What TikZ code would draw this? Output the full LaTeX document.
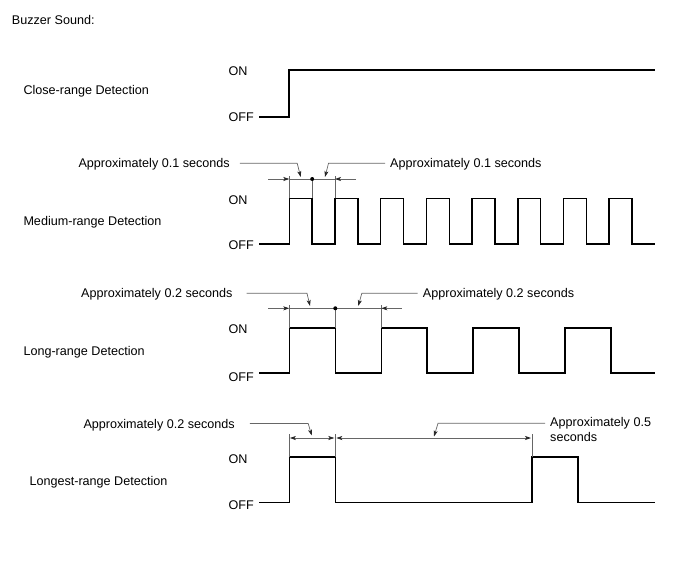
\documentclass[tikz,border=0pt]{standalone}
\usepackage{fontspec}
\setmainfont{Liberation Sans}
\usetikzlibrary{arrows.meta}
\begin{document}
\begin{tikzpicture}[x=1pt, y=-1pt, font=\fontsize{12.6}{15.6}\selectfont,
  >={Stealth[length=6pt, width=4pt, inset=1.5pt, color=black!85]},
  lbl/.style={anchor=west, inner sep=0pt, text height=9pt, text depth=0pt},
  wave/.style={line width=1.5pt, line join=miter},
  dim/.style={line width=0.7pt, black!60},
  arr/.style={->, line width=0.7pt, black!60},
  dot/.style={circle, fill=black, inner sep=0pt, minimum size=4pt}
]
  \useasboundingbox (0,0) rectangle (688,560);
  \node[lbl] (title) at (11.7, 20) {Buzzer Sound:};

  % Close-range
  \node[lbl] (close)    at (23.3, 90)    {Close-range Detection};
  \node[lbl] (closeon)  at (228.3, 70.7) {ON};
  \node[lbl] (closeoff) at (228.3,116.7) {OFF};
  \draw[wave] (259,117) -| (289,70) -- (655,70);

  % Medium-range
  \node[lbl] (med)    at (23.3,220.7)  {Medium-range Detection};
  \node[lbl] (medon)  at (228.3,200)   {ON};
  \node[lbl] (medoff) at (228.3,244.5) {OFF};
  \node[lbl] (medl)   at (78.3,163.3)  {Approximately 0.1 seconds};
  \node[lbl] (medr)   at (390,163.3)   {Approximately 0.1 seconds};
  \draw[wave] (259,244) -| (289.3,198.3) -| (312.2,244) -| (335,198.3)
    -| (357.9,244) -| (380.7,198.3) -| (403.6,244) -| (426.4,198.3)
    -| (449.3,244) -| (472.1,198.3) -| (495,244) -| (517.8,198.3)
    -| (540.7,244) -| (563.5,198.3) -| (586.4,244) -| (609.2,198.3)
    -| (632.1,244) -- (655,244);
  \coordinate (meda) at (289.3,179);
  \coordinate (medb) at (312.2,179);
  \coordinate (medc) at (335,179);
  \draw[dim] (meda |- 0,198.3) -- ([yshift=3pt]meda);
  \draw[dim] (medb |- 0,198.3) -- (medb);
  \draw[dim] (medc |- 0,198.3) -- ([yshift=3pt]medc);
  \draw[dim] (meda) -- (medc);
  \draw[arr] ([xshift=-21pt]meda) -- (meda);
  \draw[arr] ([xshift=21pt]medc) -- (medc);
  \node[dot] (meddot) at (medb) {};
  \coordinate (medla) at (300.7,177);
  \coordinate (medra) at (325,177);
  \draw[arr] ([xshift=10pt]medl.east) -- ([xshift=-3.5pt]medla |- medl.east) -- (medla);
  \draw[arr] ([xshift=-5pt]medr.west) -- ([xshift=3.5pt]medra |- medr.west) -- (medra);

  % Long-range
  \node[lbl] (long)    at (23.3,350.7)  {Long-range Detection};
  \node[lbl] (longon)  at (228.3,329)   {ON};
  \node[lbl] (longoff) at (228.3,376.5) {OFF};
  \node[lbl] (longl)   at (81,293.3)    {Approximately 0.2 seconds};
  \node[lbl] (longr)   at (422.7,293.3) {Approximately 0.2 seconds};
  \draw[wave] (259,373) -| (289.3,328) -| (335.3,373) -| (381.3,328)
    -| (427,373) -| (473,328) -| (519,373) -| (565,328) -| (611,373) -- (655,373);
  \coordinate (longa) at (289.3,308.3);
  \coordinate (longb) at (335.3,308.3);
  \coordinate (longc) at (381.3,308.3);
  \draw[dim] (longa |- 0,328) -- ([yshift=3.3pt]longa);
  \draw[dim] (longb |- 0,328) -- (longb);
  \draw[dim] (longc |- 0,328) -- ([yshift=3.3pt]longc);
  \draw[dim] (longa) -- (longc);
  \draw[arr] ([xshift=-21pt]longa) -- (longa);
  \draw[arr] ([xshift=20.4pt]longc) -- (longc);
  \node[dot] (longdot) at (longb) {};
  \coordinate (longla) at (310,306);
  \coordinate (longra) at (358.3,306);
  \draw[arr] ([xshift=14pt]longl.east) -- ([xshift=-3pt]longla |- longl.east) -- (longla);
  \draw[arr] ([xshift=-5pt]longr.west) -- ([xshift=3.5pt]longra |- longr.west) -- (longra);

  % Longest-range
  \node[lbl] (lst)    at (29.3,480.7) {Longest-range Detection};
  \node[lbl] (lston)  at (228.3,459)  {ON};
  \node[lbl] (lstoff) at (228.3,505)  {OFF};
  \node[lbl] (lstl)   at (83.3,423.5) {Approximately 0.2 seconds};
  \node[anchor=north west, inner sep=0pt, align=left] (lstr) at (550,417)
        {Approximately 0.5\\seconds};
  \draw[wave] (259,502.3) -| (289.3,457) -| (335.3,502.3) -| (532,457)
    -| (578,502.3) -- (655,502.3);
  \coordinate (lsta) at (289.3,438);
  \coordinate (lstb) at (335.3,438);
  \coordinate (lstc) at (532,438);
  \draw[dim] (lsta |- 0,457) -- ([yshift=4.5pt]lsta);
  \draw[dim] (lstb |- 0,457) -- ([yshift=4.5pt]lstb);
  \draw[dim] (lstc |- 0,457) -- ([yshift=4.5pt]lstc);
  \draw[arr, <->] ([xshift=0.5pt]lsta) -- ([xshift=-1pt]lstb);
  \draw[arr, <->] ([xshift=1pt]lstb) -- ([xshift=-1pt]lstc);
  \coordinate (lstla) at (311.7,435.5);
  \coordinate (lstra) at (434,436.5);
  \draw[arr] ([xshift=15pt]lstl.east) -- ([xshift=-3.5pt]lstla |- lstl.east) -- (lstla);
  \draw[arr] ([xshift=-5pt]lstr.west |- 0,423.3) -- ([xshift=4pt]lstra |- 0,423.3) -- (lstra);
\end{tikzpicture}
\end{document}
